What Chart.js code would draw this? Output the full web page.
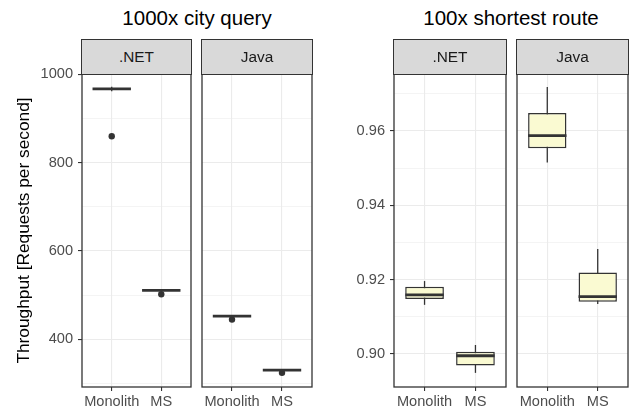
<!DOCTYPE html>
<html>
<head>
<meta charset="utf-8">
<script src="https://cdn.jsdelivr.net/npm/chart.js@4.4.1/dist/chart.umd.min.js"></script>
<style>
  body { margin: 0; background: #fff; width: 636px; height: 411px; position: relative; overflow: hidden;
         font-family: 'Liberation Sans', Arial, sans-serif; }
  canvas { position: absolute; top: 62px; }
  .title { position: absolute; top: 8px; width: 300px; font-size: 20.5px; line-height: 1; color: #000;
           text-align: center; white-space: nowrap; }
  .strip { position: absolute; top: 38.7px; height: 36px; box-sizing: border-box; border: 1.3px solid #333;
           background: #d9d9d9; font-size: 15.4px; color: #1a1a1a;
           display: flex; align-items: center; justify-content: center; }
</style>
</head>
<body>
<canvas id="cityNet" width="194" height="349" style="left:0px"></canvas>
<canvas id="cityJava" width="116" height="349" style="left:199px"></canvas>
<canvas id="routeNet" width="179" height="349" style="left:330px"></canvas>
<canvas id="routeJava" width="117" height="349" style="left:514px"></canvas>

<div class="title" style="left:47px">1000x city query</div>
<div class="title" style="left:361px">100x shortest route</div>
<div class="strip" style="left:81.4px;width:110.2px">.NET</div>
<div class="strip" style="left:201.4px;width:111.2px">Java</div>
<div class="strip" style="left:393.4px;width:113.2px">.NET</div>
<div class="strip" style="left:516.4px;width:112.2px">Java</div>

<script>
// ── Data ──
const CATEGORIES = ['Monolith', 'MS'];
const CATEGORY_X = [1, 2];

// per category: [lower whisker, lower hinge, median, upper hinge, upper whisker]
const CITY_NET = [[962, 966, 967.5, 969, 972], [509, 510, 511, 512, 513]];
const CITY_JAVA = [[450, 451.5, 452.5, 453.5, 455], [328, 329.5, 330.3, 331, 332]];
const CITY_NET_OUTLIERS = [[860], [502]];
const CITY_JAVA_OUTLIERS = [[445], [324]];

const ROUTE_NET = [[0.9132, 0.9148, 0.9159, 0.9181, 0.9196], [0.8949, 0.8969, 0.8995, 0.9006, 0.9024]];
const ROUTE_JAVA = [[0.9515, 0.9553, 0.9587, 0.9648, 0.9718], [0.9134, 0.9140, 0.9154, 0.9219, 0.9282]];
const ROUTE_NET_OUTLIERS = [[], []];
const ROUTE_JAVA_OUTLIERS = [[], []];

const CITY_TICKS = [300, 400, 500, 600, 700, 800, 900, 1000];
const ROUTE_TICKS = [0.90, 0.91, 0.92, 0.93, 0.94, 0.95, 0.96, 0.97];

const FONT = "'Liberation Sans', Arial, sans-serif";
const DARK = '#333333';
const GRID = '#EBEBEB';
const BOX_FILL = '#FAFAD2';

const cityAxis = {
  min: 292, max: 1001, ticks: CITY_TICKS,
  isMajor: v => v % 200 === 0,
  fmt: v => String(v),
};
const routeAxis = {
  min: 0.8911, max: 0.9753, ticks: ROUTE_TICKS,
  isMajor: v => Math.round(v * 100) % 2 === 0,
  fmt: v => v.toFixed(2),
};

// ── Panel frame drawn over the data, like ggplot's panel.border ──
const panelBorder = {
  id: 'panelBorder',
  afterDraw(chart) {
    const { ctx, chartArea: a } = chart;
    ctx.save();
    ctx.strokeStyle = DARK;
    ctx.lineWidth = 1.3;
    ctx.strokeRect(a.left, a.top, a.right - a.left, a.bottom - a.top);
    ctx.restore();
  },
};

// keep the plot area where the layout padding puts it
function noLabelPadding(s) {
  s.paddingTop = 0; s.paddingBottom = 0; s.paddingLeft = 0; s.paddingRight = 0;
}

function makePanel(id, stats, outliers, axis, yWidth, yTitle) {
  const showY = yWidth > 0;
  const pt = (i, v) => ({ x: CATEGORY_X[i], y: v });

  const datasets = [
    {
      type: 'scatter', label: 'median', order: 0,
      data: stats.map((s, i) => pt(i, s[2])),
      pointStyle: 'line', pointRadius: 19.2, pointBorderWidth: 2.8, pointBorderColor: DARK,
    },
    {
      type: 'scatter', label: 'outliers', order: 1,
      data: outliers.flatMap((o, i) => o.map(v => pt(i, v))),
      pointRadius: 3.2, pointBackgroundColor: DARK, pointBorderWidth: 0,
    },
    {
      type: 'bar', label: 'box', order: 2, grouped: false,
      data: stats.map((s, i) => pt(i, [s[1], s[3]])),
      backgroundColor: BOX_FILL, borderColor: DARK, borderWidth: 1.5, borderSkipped: false,
      categoryPercentage: 0.76, barPercentage: 1,
    },
    {
      type: 'bar', label: 'whisker', order: 3, grouped: false,
      data: stats.map((s, i) => pt(i, [s[0], s[4]])),
      backgroundColor: DARK, borderWidth: 0, maxBarThickness: 1.3,
    },
  ];

  return new Chart(document.getElementById(id), {
    type: 'bar',
    data: { datasets },
    plugins: [panelBorder],
    options: {
      responsive: false, animation: false, events: [],
      layout: { autoPadding: false, padding: { top: 12, bottom: 0, left: showY ? 0 : 3, right: 3 } },
      plugins: { legend: { display: false }, tooltip: { enabled: false } },
      scales: {
        x: {
          type: 'linear', min: 0.4, max: 2.6, offset: false,
          afterBuildTicks: s => { s.ticks = CATEGORY_X.map(v => ({ value: v })); },
          afterFit: s => { s.height = 24; noLabelPadding(s); },
          border: { display: false },
          grid: { color: GRID, lineWidth: 1.1, tickColor: DARK, tickLength: 4, tickWidth: 1.1, offset: false },
          ticks: {
            autoSkip: false, maxRotation: 0, padding: 2, color: '#4D4D4D',
            font: { family: FONT, size: 14.6 },
            callback: v => CATEGORIES[CATEGORY_X.indexOf(v)],
          },
        },
        y: {
          type: 'linear', min: axis.min, max: axis.max, stacked: false,
          afterBuildTicks: s => { s.ticks = axis.ticks.map(v => ({ value: v })); },
          afterFit: s => { s.width = yWidth; noLabelPadding(s); },
          border: { display: false },
          grid: {
            color: GRID, drawTicks: showY, tickLength: 4,
            lineWidth: c => axis.isMajor(c.tick.value) ? 1.1 : 0.55,
            tickWidth: 1.1,
            tickColor: c => axis.isMajor(c.tick.value) ? DARK : 'rgba(0,0,0,0)',
          },
          ticks: {
            display: showY, padding: 5, color: '#4D4D4D',
            font: { family: FONT, size: 14.6 },
            callback: v => axis.isMajor(v) ? axis.fmt(v) : '',
          },
          title: {
            display: !!yTitle, text: yTitle || '', color: '#000',
            font: { family: FONT, size: 17.3 }, padding: { top: 13.5, bottom: 0 },
          },
        },
      },
    },
  });
}

makePanel('cityNet', CITY_NET, CITY_NET_OUTLIERS, cityAxis, 82, 'Throughput [Requests per second]');
makePanel('cityJava', CITY_JAVA, CITY_JAVA_OUTLIERS, cityAxis, 0);
makePanel('routeNet', ROUTE_NET, ROUTE_NET_OUTLIERS, routeAxis, 64);
makePanel('routeJava', ROUTE_JAVA, ROUTE_JAVA_OUTLIERS, routeAxis, 0);
</script>
</body>
</html>
